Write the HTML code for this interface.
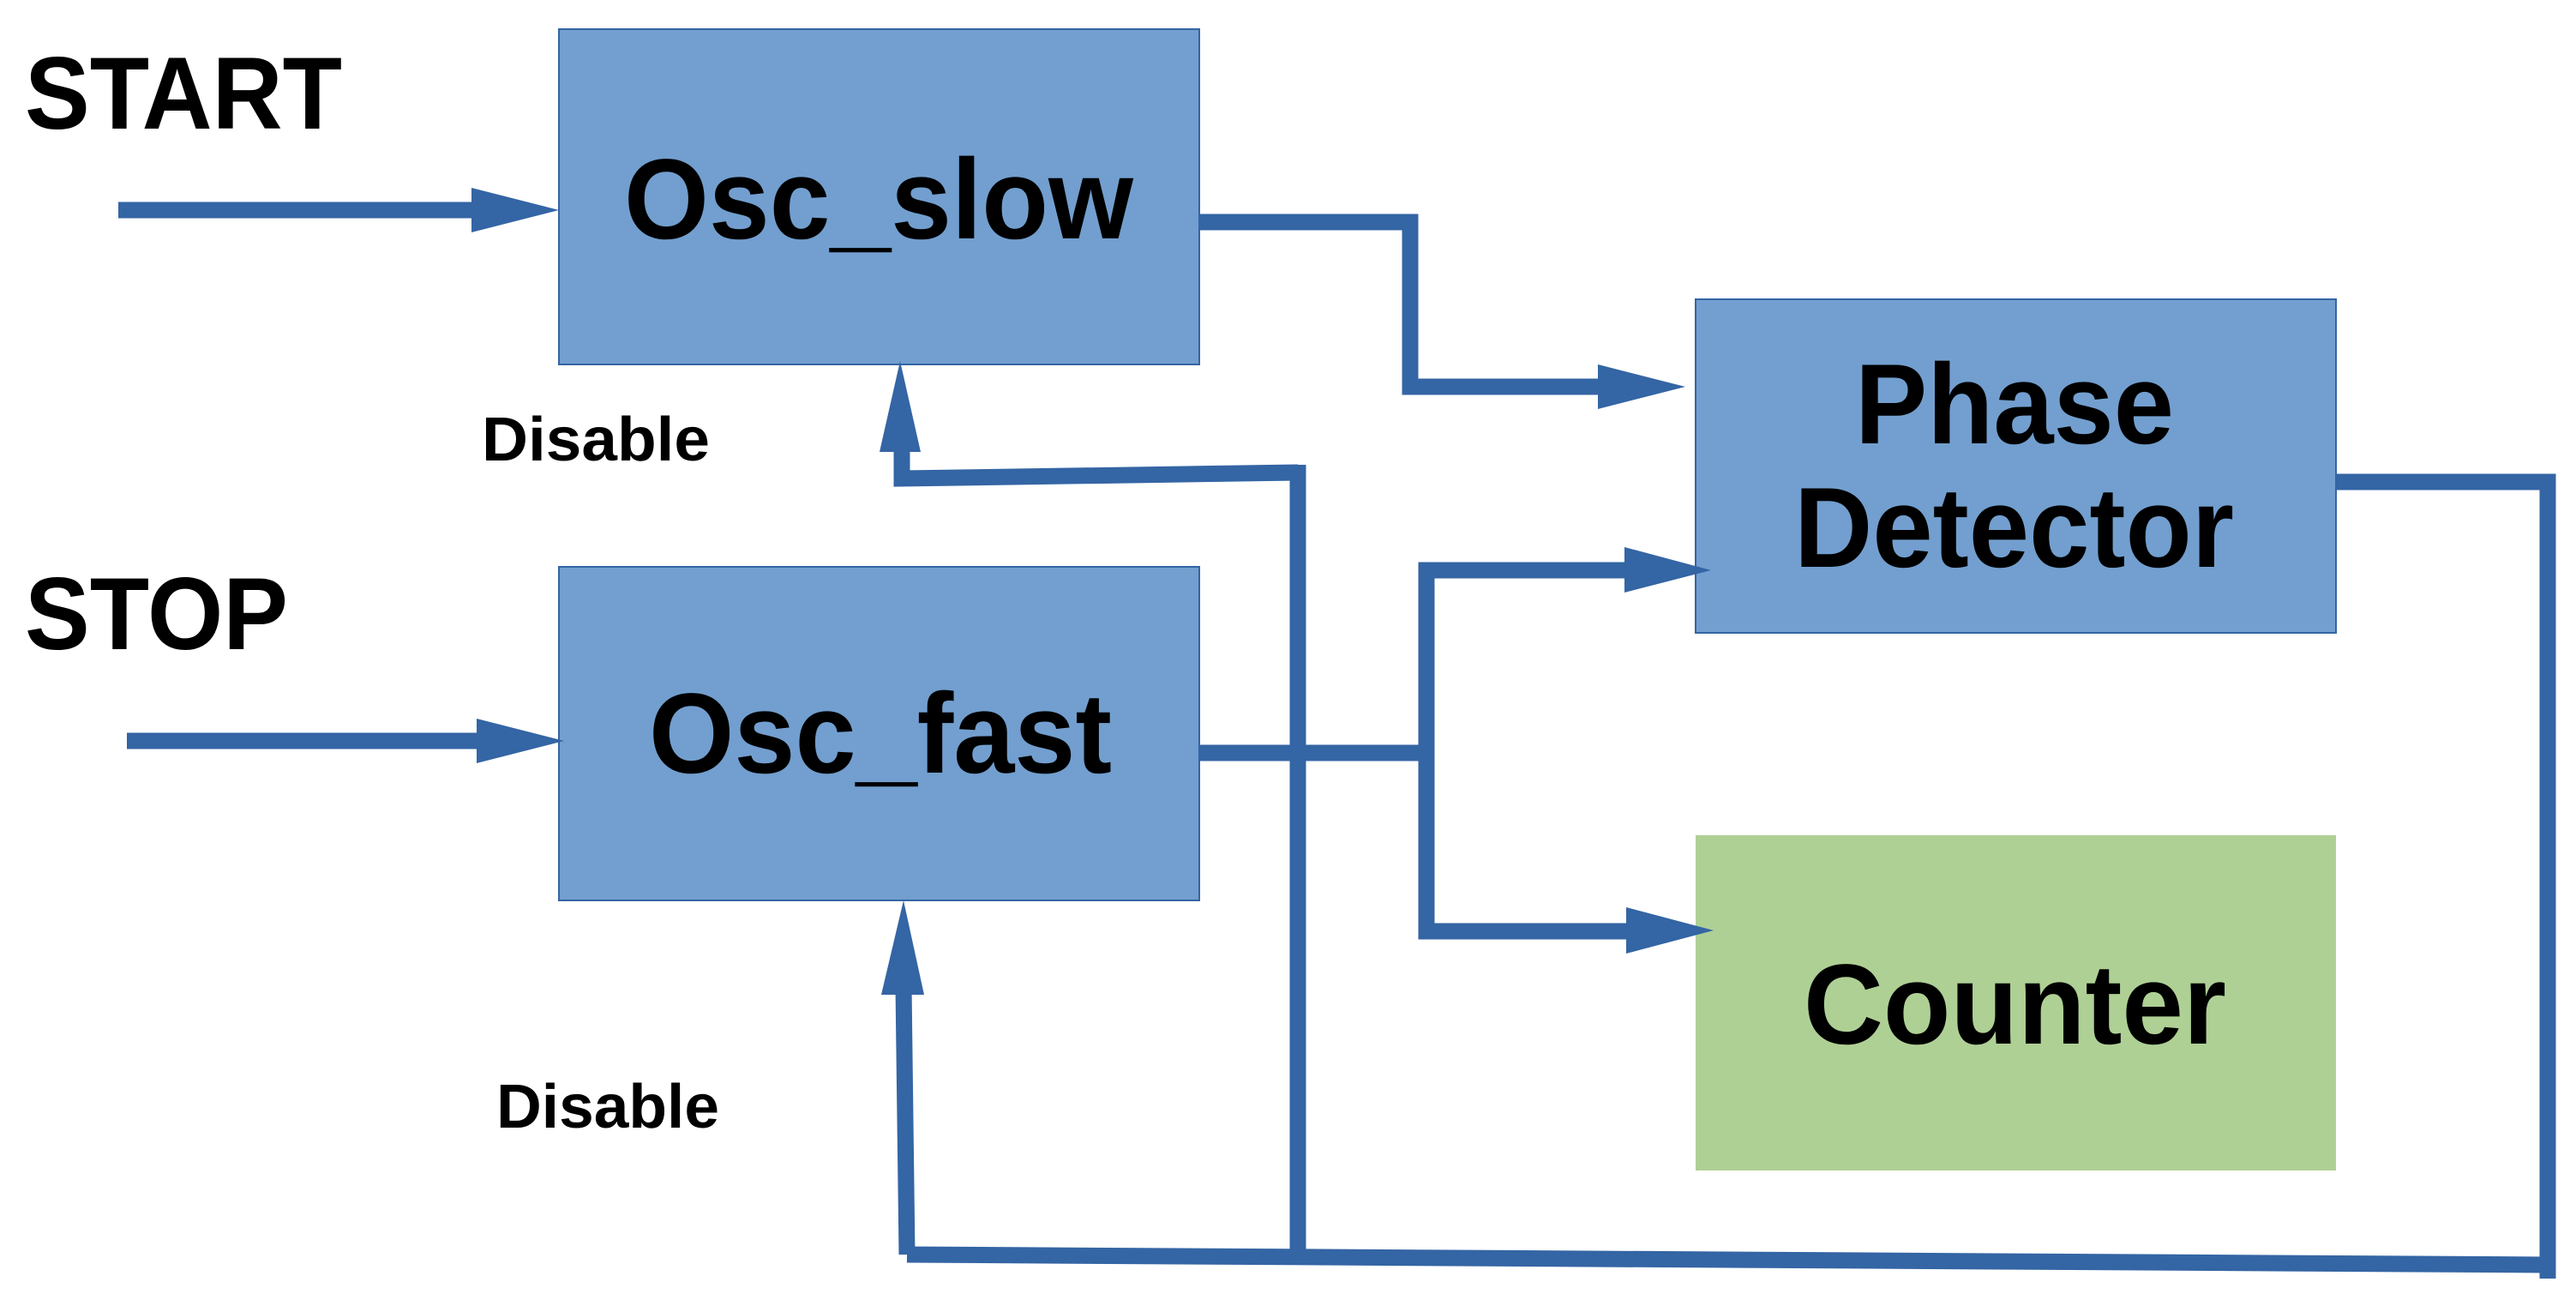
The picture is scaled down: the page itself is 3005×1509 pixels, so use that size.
<!DOCTYPE html>
<html><head><meta charset="utf-8"><style>
html,body{margin:0;padding:0;background:#fff;}
svg{display:block;}
text{font-family:"Liberation Sans",sans-serif;font-weight:bold;fill:#000;}
</style></head><body>
<svg width="3005" height="1509" viewBox="0 0 3005 1509" xmlns="http://www.w3.org/2000/svg">
<g fill="#729fcf" stroke="#3465a4" stroke-width="2">
<rect x="652" y="34" width="747" height="391"/>
<rect x="652" y="661" width="747" height="389"/>
<rect x="1978" y="349" width="747" height="389"/>
</g>
<rect x="1978" y="974" width="747" height="391" fill="#afd095"/>
<g fill="none" stroke="#3465a4" stroke-width="19" stroke-linejoin="miter">
<line x1="138" y1="245" x2="556" y2="245"/>
<line x1="148" y1="864" x2="562" y2="864"/>
<polyline points="1399,259 1645,259 1645,451 1870,451"/>
<line x1="1399" y1="878" x2="1664" y2="878"/>
<polyline points="1900,665 1664,665 1664,1086 1900,1086"/>
<line x1="1514" y1="542" x2="1514" y2="1472"/>
<polyline points="1514,551 1052,558 1052,520"/>
<polyline points="2725,562 2972,562 2972,1491"/>
<line x1="2972" y1="1475" x2="1058" y2="1463"/>
<line x1="1058" y1="1463" x2="1054" y2="1150"/>
</g>
<g fill="#3465a4">
<polygon points="550,219 652,245 550,271"/>
<polygon points="556,838 658,864 556,890"/>
<polygon points="1864,425 1966,451 1864,477"/>
<polygon points="1895,638 1996,665 1895,691"/>
<polygon points="1897,1058 1999,1085 1897,1112"/>
<polygon points="1026,527 1050,421 1074,527"/>
<polygon points="1028,1160 1054,1050 1078,1160"/>
</g>
<text x="29" y="150" font-size="120" textLength="370" lengthAdjust="spacingAndGlyphs">START</text>
<text x="29" y="757" font-size="120" textLength="307" lengthAdjust="spacingAndGlyphs">STOP</text>
<text x="728" y="278" font-size="133" textLength="594" lengthAdjust="spacingAndGlyphs">Osc_slow</text>
<text x="757" y="901" font-size="133" textLength="540" lengthAdjust="spacingAndGlyphs">Osc_fast</text>
<text x="2164" y="517" font-size="133" textLength="372" lengthAdjust="spacingAndGlyphs">Phase</text>
<text x="2093" y="661" font-size="133" textLength="513" lengthAdjust="spacingAndGlyphs">Detector</text>
<text x="2104" y="1217" font-size="133" textLength="493" lengthAdjust="spacingAndGlyphs">Counter</text>
<text x="562" y="537" font-size="72" textLength="266" lengthAdjust="spacingAndGlyphs">Disable</text>
<text x="579" y="1315" font-size="72" textLength="260" lengthAdjust="spacingAndGlyphs">Disable</text>
</svg>
</body></html>
